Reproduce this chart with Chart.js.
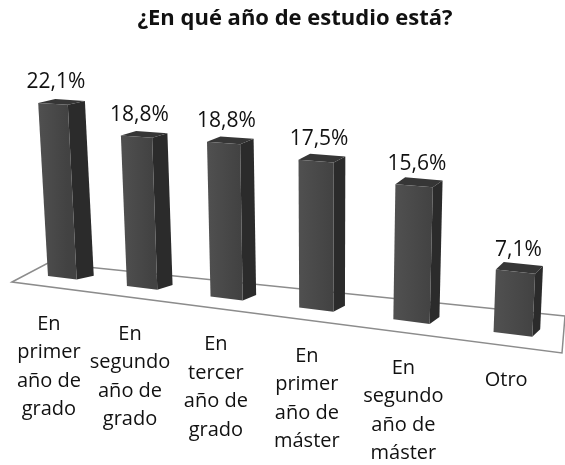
<!DOCTYPE html>
<html>
<head>
<meta charset="utf-8">
<script src="https://cdn.jsdelivr.net/npm/chart.js@4.4.0/dist/chart.umd.min.js"></script>
<style>
  body { margin: 0; background: #fff; }
</style>
</head>
<body>
<canvas id="myChart" width="565" height="465"></canvas>
<script>
const categories = [
  ["En", "primer", "año de", "grado"],
  ["En", "segundo", "año de", "grado"],
  ["En", "tercer", "año de", "grado"],
  ["En", "primer", "año de", "máster"],
  ["En", "segundo", "año de", "máster"],
  ["Otro"],
];
const percents = [22.1, 18.8, 18.8, 17.5, 15.6, 7.1];
const yMax = 25;

// perspective of the front plane: (u, w) of the chart area (0..1) -> page px
const corners = [
  [0, 0, 24, 273],
  [1, 0, 566, 341],
  [1, 1, 578, 109],
  [0, 1, 12, 78],
];
// floor corners, as offsets from the baseline ends
const floor = { fl: [-12, 9], bl: [24, -10], br: [-1, -25], fr: [-4, 12] };
const font = "'Open Sans', sans-serif";

function solve(A, b) {
  const n = b.length;
  for (let c = 0; c < n; c++) {
    let p = c;
    for (let r = c + 1; r < n; r++) if (Math.abs(A[r][c]) > Math.abs(A[p][c])) p = r;
    [A[c], A[p]] = [A[p], A[c]];
    [b[c], b[p]] = [b[p], b[c]];
    for (let r = c + 1; r < n; r++) {
      const f = A[r][c] / A[c][c];
      for (let k = c; k < n; k++) A[r][k] -= f * A[c][k];
      b[r] -= f * b[c];
    }
  }
  const x = new Array(n).fill(0);
  for (let r = n - 1; r >= 0; r--) {
    let s = b[r];
    for (let k = r + 1; k < n; k++) s -= A[r][k] * x[k];
    x[r] = s / A[r][r];
  }
  return x;
}

function makeH(pts) {
  const A = [], b = [];
  pts.forEach(([u, w, x, y]) => {
    A.push([u, w, 1, 0, 0, 0, -u * x, -w * x]); b.push(x);
    A.push([0, 0, 0, u, w, 1, -u * y, -w * y]); b.push(y);
  });
  const h = solve(A, b);
  return (u, w) => {
    const d = h[6] * u + h[7] * w + 1;
    return { x: (h[0] * u + h[1] * w + h[2]) / d, y: (h[3] * u + h[4] * w + h[5]) / d };
  };
}

function poly(ctx, pts, fill) {
  ctx.beginPath();
  pts.forEach((p, i) => (i ? ctx.lineTo(p.x, p.y) : ctx.moveTo(p.x, p.y)));
  ctx.closePath();
  ctx.fillStyle = fill;
  ctx.fill();
}

const bars3d = {
  id: "bars3d",
  beforeDatasetsDraw(chart) {
    const { ctx, chartArea: ca } = chart;
    const P = makeH(corners);
    const U = (px) => (px - ca.left) / ca.width;
    const W = (py) => (ca.bottom - py) / ca.height;
    const depth = (u) => ({ x: 18 - 11 * u, y: -3.5 - 4.5 * u });
    const sh = (p, d) => ({ x: p.x + d.x, y: p.y + d.y });

    // floor
    const a = P(0, 0), b = P(1, 0);
    ctx.save();
    ctx.beginPath();
    ctx.moveTo(a.x + floor.fl[0], a.y + floor.fl[1]);
    ctx.lineTo(a.x + floor.bl[0], a.y + floor.bl[1]);
    ctx.lineTo(b.x + floor.br[0], b.y + floor.br[1]);
    ctx.lineTo(b.x + floor.fr[0], b.y + floor.fr[1]);
    ctx.closePath();
    ctx.fillStyle = "#fff";
    ctx.fill();
    ctx.strokeStyle = "#8c8c8c";
    ctx.lineWidth = 1.5;
    ctx.stroke();

    const meta = chart.getDatasetMeta(0);
    const vals = chart.data.datasets[0].data;
    meta.data.forEach((el, i) => {
      const { x, y, base, width } = el.getProps(["x", "y", "base", "width"], true);
      const u0 = U(x - width / 2), u1 = U(x + width / 2), uc = U(x);
      const wt = W(y), wb = W(base);
      const p1 = P(u0, wb), p2 = P(u1, wb), p3 = P(u1, wt), p4 = P(u0, wt);
      const d = depth(uc);
      poly(ctx, [p2, sh(p2, d), sh(p3, d), p3], "#2b2b2b");
      poly(ctx, [p4, p3, sh(p3, d), sh(p4, d)], "#363636");
      const g = ctx.createLinearGradient(p4.x, 0, p3.x, 0);
      g.addColorStop(0, "#505050");
      g.addColorStop(1, "#424242");
      poly(ctx, [p1, p2, p3, p4], g);

      ctx.fillStyle = "#111";
      ctx.font = "21px " + font;
      ctx.textAlign = "center";
      ctx.textBaseline = "alphabetic";
      const t = P(uc, wt);
      ctx.fillText(vals[i].toFixed(1).replace(".", ",") + "%", t.x + 3, t.y - 16);

      ctx.font = "20px " + font;
      const bt = P(uc, wb);
      const lines = [].concat(chart.data.labels[i]);
      lines.forEach((line, k) => {
        ctx.fillText(line, bt.x - 14 + 8 * uc, bt.y + 52 + k * 28.5);
      });
    });
    ctx.restore();
    return false;
  },
};

const ctx = document.getElementById("myChart").getContext("2d");
const myChart = new Chart(ctx, {
  type: "bar",
  data: {
    labels: categories,
    datasets: [{ data: percents, backgroundColor: "#474747", barPercentage: 0.37, categoryPercentage: 1 }],
  },
  options: {
    responsive: false,
    animation: false,
    layout: { padding: { left: 25 } },
    scales: {
      x: { display: false },
      y: { display: false, min: 0, max: yMax },
    },
    plugins: {
      legend: { display: false },
      tooltip: { enabled: false },
      title: {
        display: true,
        text: "¿En qué año de estudio está?",
        color: "#111",
        font: { family: font, size: 22, weight: "bold" },
        padding: { top: 6, bottom: 10 },
      },
    },
  },
  plugins: [bars3d],
});
</script>
</body>
</html>
